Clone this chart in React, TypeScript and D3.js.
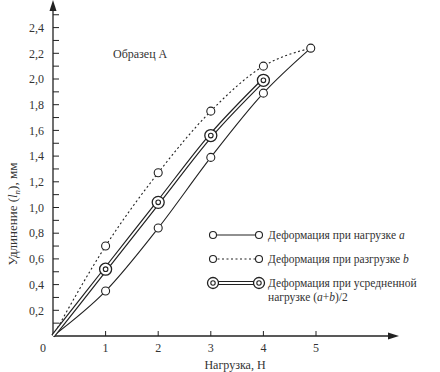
import * as d3 from "d3";

const loads = [0, 1, 2, 3, 4, 4.9];
const loadingA = [0, 0.35, 0.84, 1.39, 1.89, 2.24];
const unloadingB = [0, 0.7, 1.27, 1.75, 2.1, 2.24];
const avgLoads = [0, 1, 2, 3, 4];
const averageAB = [0, 0.52, 1.04, 1.56, 1.99];
const yTicks = [0.2, 0.4, 0.6, 0.8, 1.0, 1.2, 1.4, 1.6, 1.8, 2.0, 2.2, 2.4];
const xTicks = [1, 2, 3, 4, 5];
const legendLabels = [
  "Деформация при нагрузке ",
  "Деформация при разгрузке ",
  "Деформация при усредненной",
];

const ink = "#222";
const font = '"Liberation Serif", "DejaVu Serif", "Times New Roman", serif';

export default function App() {
  const width = 440;
  const height = 372;
  const x = d3.scaleLinear([0, 5], [53, 316]);
  const y = d3.scaleLinear([0, 2.4], [336, 27.6]);

  const pts = (xs: number[], ys: number[]) => xs.map((v, i) => [v, ys[i]] as [number, number]);
  const line = d3
    .line<[number, number]>()
    .x((d) => x(d[0]))
    .y((d) => y(d[1]))
    .curve(d3.curveMonotoneX);

  const a = pts(loads, loadingA);
  const b = pts(loads, unloadingB);
  const m = pts(avgLoads, averageAB);

  const minor = d3.range(0.1, 2.55, 0.1);
  const fmt = (v: number) => v.toFixed(1).replace(".", ",");

  return (
    <svg
      width={width}
      height={height}
      style={{ position: "absolute", left: 0, top: 0, background: "#fff", fontFamily: font }}
    >
      {/* axes */}
      <g stroke={ink} fill="none">
        <line x1={x(0)} x2={x(0)} y1={y(0)} y2={6} strokeWidth={1.3} />
        <line x1={x(0)} x2={392} y1={y(0)} y2={y(0)} strokeWidth={1.3} />
        {minor.map((v, i) => (
          <line key={i} x1={x(0)} x2={x(0) + 6} y1={y(v)} y2={y(v)} strokeWidth={1} />
        ))}
        {xTicks.map((v) => (
          <line key={v} x1={x(v)} x2={x(v)} y1={y(0)} y2={y(0) - 5} strokeWidth={1} />
        ))}
      </g>
      <path d={`M${x(0)},0 L${x(0) - 3.5},11 L${x(0) + 3.5},11 Z`} fill={ink} />
      <path d={`M399,${y(0)} L388,${y(0) - 3.5} L388,${y(0) + 3.5} Z`} fill={ink} />

      <g fill="#333" fontSize={12}>
        {yTicks.map((v) => (
          <text key={v} x={x(0) - 9} y={y(v)} dy="0.35em" textAnchor="end">
            {fmt(v)}
          </text>
        ))}
        {xTicks.map((v) => (
          <text key={v} x={x(v)} y={352} textAnchor="middle">
            {v}
          </text>
        ))}
        <text x={43} y={352} textAnchor="middle">0</text>
        <text x={235} y={369} textAnchor="middle">Нагрузка,  Н</text>
        <text transform="translate(17,214) rotate(-90)" textAnchor="middle" fontSize={13}>
          Удлинение (<tspan fontStyle="italic">l</tspan>
          <tspan fontSize={9} dy={3} fontStyle="italic">n</tspan>
          <tspan dy={-3}>), мм</tspan>
        </text>
        <text x={113} y={58}>Образец А</text>
      </g>

      {/* series */}
      <path d={line(b) || ""} fill="none" stroke={ink} strokeWidth={1.1} strokeDasharray="2,2.5" />
      <path d={line(a) || ""} fill="none" stroke={ink} strokeWidth={1.1} />
      <path d={line(m) || ""} fill="none" stroke={ink} strokeWidth={4.2} />
      <path d={line(m) || ""} fill="none" stroke="#fff" strokeWidth={1.8} />

      <g fill="#fff" stroke={ink} strokeWidth={1.1}>
        {a.slice(1).map((d, i) => (
          <circle key={"a" + i} cx={x(d[0])} cy={y(d[1])} r={4} />
        ))}
        {b.slice(1, 5).map((d, i) => (
          <circle key={"b" + i} cx={x(d[0])} cy={y(d[1])} r={4} />
        ))}
        {m.slice(1).map((d, i) => (
          <g key={"m" + i}>
            <circle cx={x(d[0])} cy={y(d[1])} r={6} strokeWidth={1.3} />
            <circle cx={x(d[0])} cy={y(d[1])} r={2.3} />
          </g>
        ))}
      </g>

      {/* legend */}
      <g stroke={ink} fill="#fff" strokeWidth={1.1}>
        <line x1={213} x2={259} y1={235} y2={235} />
        <circle cx={213} cy={235} r={3.5} />
        <circle cx={259} cy={235} r={3.5} />
        <line x1={213} x2={259} y1={259} y2={259} strokeDasharray="2,2.5" />
        <circle cx={213} cy={259} r={3.5} />
        <circle cx={259} cy={259} r={3.5} />
        <line x1={213} x2={259} y1={283} y2={283} strokeWidth={4.2} />
        <line x1={213} x2={259} y1={283} y2={283} stroke="#fff" strokeWidth={1.8} />
        {[213, 259].map((cx) => (
          <g key={cx}>
            <circle cx={cx} cy={283} r={5.5} strokeWidth={1.3} />
            <circle cx={cx} cy={283} r={2.2} />
          </g>
        ))}
      </g>
      <g fill="#333" fontSize={11.5}>
        <text x={268} y={239}>
          {legendLabels[0]}
          <tspan fontStyle="italic">a</tspan>
        </text>
        <text x={268} y={263}>
          {legendLabels[1]}
          <tspan fontStyle="italic">b</tspan>
        </text>
        <text x={268} y={287}>{legendLabels[2]}</text>
        <text x={268} y={301}>
          нагрузке (<tspan fontStyle="italic">a</tspan>+<tspan fontStyle="italic">b</tspan>)/2
        </text>
      </g>
    </svg>
  );
}
